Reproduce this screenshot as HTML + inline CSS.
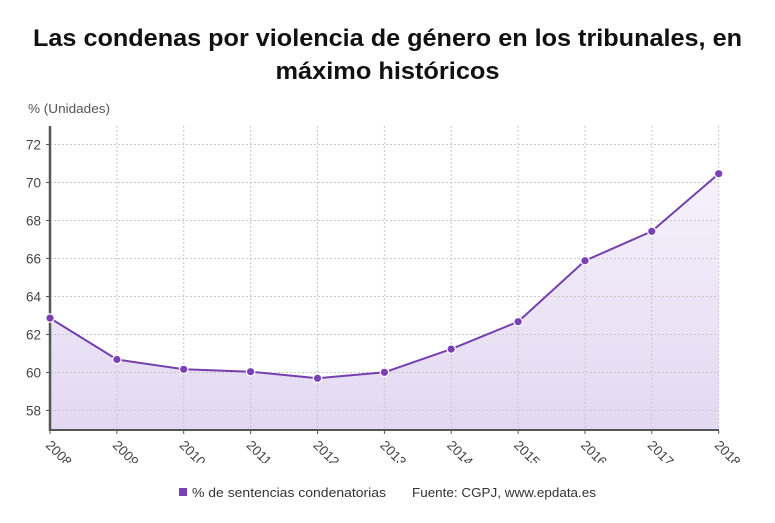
<!DOCTYPE html>
<html>
<head>
<meta charset="utf-8">
<style>
  html, body { margin: 0; padding: 0; background: #ffffff; }
  body { width: 775px; height: 523px; overflow: hidden; }
  svg { display: block; font-family: "Liberation Sans", Arial, sans-serif; }
</style>
</head>
<body>
<svg width="775" height="523" viewBox="0 0 775 523" xmlns="http://www.w3.org/2000/svg">
  <defs>
    <linearGradient id="area" gradientUnits="userSpaceOnUse" x1="0" y1="170" x2="0" y2="430">
      <stop offset="0" stop-color="#f6f2fb"/>
      <stop offset="1" stop-color="#e4d8f2"/>
    </linearGradient>
    <clipPath id="xl">
      <rect x="0" y="432" width="775" height="31"/>
    </clipPath>
  </defs>
  <rect width="775" height="523" fill="#ffffff"/>

  <!-- Title -->
  <text x="387.5" y="46" text-anchor="middle" font-size="24" font-weight="bold" fill="#111" textLength="709" lengthAdjust="spacingAndGlyphs">Las condenas por violencia de género en los tribunales, en</text>
  <text x="387.5" y="79" text-anchor="middle" font-size="24" font-weight="bold" fill="#111" textLength="224" lengthAdjust="spacingAndGlyphs">máximo históricos</text>

  <!-- Y axis unit label -->
  <text x="28" y="113" font-size="12.5" fill="#555" textLength="82" lengthAdjust="spacingAndGlyphs">% (Unidades)</text>

  <!-- Area -->
  <path d="M50,318.1 L116.9,359.5 L183.7,369.3 L250.6,371.7 L317.5,378.3 L384.4,372.3 L451.2,349.1 L518.1,321.7 L585,260.7 L651.8,231.3 L718.7,173.7 L718.7,430 L50,430 Z" fill="url(#area)"/>

  <!-- Horizontal grid -->
  <g stroke="#c8c8c8" stroke-width="1" stroke-dasharray="2,2">
    <line x1="50" y1="410.5" x2="719" y2="410.5"/>
    <line x1="50" y1="372.5" x2="719" y2="372.5"/>
    <line x1="50" y1="334.5" x2="719" y2="334.5"/>
    <line x1="50" y1="296.5" x2="719" y2="296.5"/>
    <line x1="50" y1="258.5" x2="719" y2="258.5"/>
    <line x1="50" y1="220.5" x2="719" y2="220.5"/>
    <line x1="50" y1="182.5" x2="719" y2="182.5"/>
    <line x1="50" y1="144.5" x2="719" y2="144.5"/>
  </g>
  <!-- Vertical grid -->
  <g stroke="#c8c8c8" stroke-width="1" stroke-dasharray="2,2">
    <line x1="116.9" y1="126" x2="116.9" y2="430"/>
    <line x1="183.7" y1="126" x2="183.7" y2="430"/>
    <line x1="250.6" y1="126" x2="250.6" y2="430"/>
    <line x1="317.5" y1="126" x2="317.5" y2="430"/>
    <line x1="384.4" y1="126" x2="384.4" y2="430"/>
    <line x1="451.2" y1="126" x2="451.2" y2="430"/>
    <line x1="518.1" y1="126" x2="518.1" y2="430"/>
    <line x1="585" y1="126" x2="585" y2="430"/>
    <line x1="651.8" y1="126" x2="651.8" y2="430"/>
    <line x1="718.7" y1="126" x2="718.7" y2="430"/>
  </g>

  <!-- Axes -->
  <line x1="50" y1="126" x2="50" y2="431" stroke="#555" stroke-width="2.5"/>
  <line x1="49" y1="430" x2="719" y2="430" stroke="#555" stroke-width="2"/>
  <!-- y ticks -->
  <g stroke="#555" stroke-width="1">
    <line x1="46" y1="410.5" x2="50" y2="410.5"/>
    <line x1="46" y1="372.5" x2="50" y2="372.5"/>
    <line x1="46" y1="334.5" x2="50" y2="334.5"/>
    <line x1="46" y1="296.5" x2="50" y2="296.5"/>
    <line x1="46" y1="258.5" x2="50" y2="258.5"/>
    <line x1="46" y1="220.5" x2="50" y2="220.5"/>
    <line x1="46" y1="182.5" x2="50" y2="182.5"/>
    <line x1="46" y1="144.5" x2="50" y2="144.5"/>
  </g>
  <!-- x ticks -->
  <g stroke="#555" stroke-width="1">
    <line x1="50" y1="430" x2="50" y2="434"/>
    <line x1="116.9" y1="430" x2="116.9" y2="434"/>
    <line x1="183.7" y1="430" x2="183.7" y2="434"/>
    <line x1="250.6" y1="430" x2="250.6" y2="434"/>
    <line x1="317.5" y1="430" x2="317.5" y2="434"/>
    <line x1="384.4" y1="430" x2="384.4" y2="434"/>
    <line x1="451.2" y1="430" x2="451.2" y2="434"/>
    <line x1="518.1" y1="430" x2="518.1" y2="434"/>
    <line x1="585" y1="430" x2="585" y2="434"/>
    <line x1="651.8" y1="430" x2="651.8" y2="434"/>
    <line x1="718.7" y1="430" x2="718.7" y2="434"/>
  </g>

  <!-- Y tick labels -->
  <g font-size="13.5" fill="#444" text-anchor="end">
    <text x="41" y="415.5">58</text>
    <text x="41" y="377.5">60</text>
    <text x="41" y="339.5">62</text>
    <text x="41" y="301.5">64</text>
    <text x="41" y="263.5">66</text>
    <text x="41" y="225.5">68</text>
    <text x="41" y="187.5">70</text>
    <text x="41" y="149.5">72</text>
  </g>

  <!-- X tick labels (rotated, clipped) -->
  <g clip-path="url(#xl)" font-size="13.5" fill="#444">
    <text transform="translate(45,446) rotate(45)">2008</text>
    <text transform="translate(111.9,446) rotate(45)">2009</text>
    <text transform="translate(178.7,446) rotate(45)">2010</text>
    <text transform="translate(245.6,446) rotate(45)">2011</text>
    <text transform="translate(312.5,446) rotate(45)">2012</text>
    <text transform="translate(379.4,446) rotate(45)">2013</text>
    <text transform="translate(446.2,446) rotate(45)">2014</text>
    <text transform="translate(513.1,446) rotate(45)">2015</text>
    <text transform="translate(580,446) rotate(45)">2016</text>
    <text transform="translate(646.8,446) rotate(45)">2017</text>
    <text transform="translate(713.7,446) rotate(45)">2018</text>
  </g>

  <!-- Line -->
  <polyline points="50,318.1 116.9,359.5 183.7,369.3 250.6,371.7 317.5,378.3 384.4,372.3 451.2,349.1 518.1,321.7 585,260.7 651.8,231.3 718.7,173.7" fill="none" stroke="#7540ae" stroke-width="2" stroke-linejoin="round"/>
  <g fill="#7a40b5" stroke="#ffffff" stroke-width="1.2">
    <circle cx="50" cy="318.1" r="4.2"/>
    <circle cx="116.9" cy="359.5" r="4.2"/>
    <circle cx="183.7" cy="369.3" r="4.2"/>
    <circle cx="250.6" cy="371.7" r="4.2"/>
    <circle cx="317.5" cy="378.3" r="4.2"/>
    <circle cx="384.4" cy="372.3" r="4.2"/>
    <circle cx="451.2" cy="349.1" r="4.2"/>
    <circle cx="518.1" cy="321.7" r="4.2"/>
    <circle cx="585" cy="260.7" r="4.2"/>
    <circle cx="651.8" cy="231.3" r="4.2"/>
    <circle cx="718.7" cy="173.7" r="4.2"/>
  </g>

  <!-- Legend -->
  <rect x="179" y="488" width="8" height="8" fill="#7a40b5"/>
  <text x="192" y="497" font-size="13" fill="#333" textLength="194" lengthAdjust="spacingAndGlyphs">% de sentencias condenatorias</text>
  <text x="412" y="497" font-size="13" fill="#333" textLength="184" lengthAdjust="spacingAndGlyphs">Fuente: CGPJ, www.epdata.es</text>
</svg>
</body>
</html>
